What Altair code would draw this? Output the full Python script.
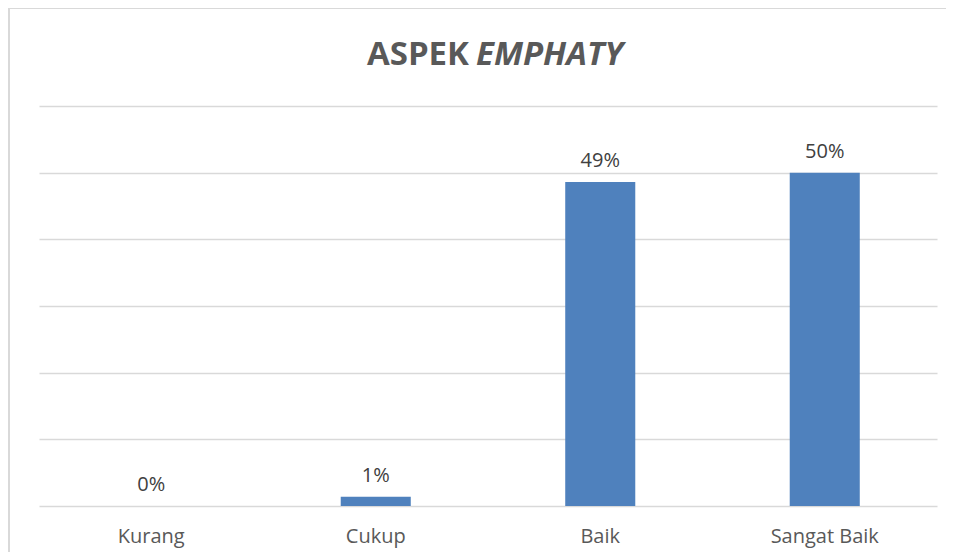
import altair as alt
import pandas as pd

categories = ["Kurang", "Cukup", "Baik", "Sangat Baik"]
values = [0.0, 0.014, 0.486, 0.500]
y_ticks = [0.0, 0.1, 0.2, 0.3, 0.4, 0.5, 0.6]
title_plain = "ASPEK"
title_italic = "EMPHATY"

df = pd.DataFrame({"kategori": categories, "nilai": values})

FONT = "Open Sans"
GRID = "#d9d9d9"

x_enc = alt.X(
    "kategori:N",
    sort=categories,
    scale=alt.Scale(paddingInner=0.688, paddingOuter=0.344),
    axis=alt.Axis(
        title=None, ticks=False, domain=False, labelAngle=0,
        labelFont=FONT, labelFontSize=20, labelColor="#595959",
        labelPadding=20,
    ),
)
y_enc = alt.Y(
    "nilai:Q",
    scale=alt.Scale(domain=[0, 0.6], nice=False),
    axis=alt.Axis(
        title=None, labels=False, ticks=False, domain=False,
        values=y_ticks, grid=True, gridColor=GRID, gridWidth=1.4,
    ),
)

base = alt.Chart(df)
bars = base.mark_bar(color="#4F81BD").encode(x=x_enc, y=y_enc)
labels = base.mark_text(
    font=FONT, fontSize=20, color="#404040", baseline="alphabetic", dy=-15
).encode(x=alt.X("kategori:N", sort=categories), y="nilai:Q", text=alt.Text("nilai:Q", format=".0%"))

t1 = alt.Chart(pd.DataFrame({"t": [title_plain]})).mark_text(
    font=FONT, fontSize=33, fontWeight="bold", color="#595959",
    align="right", baseline="alphabetic",
).encode(text="t:N", x=alt.value(430), y=alt.value(-41))
t2 = alt.Chart(pd.DataFrame({"t": [title_italic]})).mark_text(
    font=FONT, fontSize=33, fontWeight="bold", fontStyle="italic", color="#595959",
    align="left", baseline="alphabetic",
).encode(text="t:N", x=alt.value(437), y=alt.value(-41))

frame_left = alt.Chart(pd.DataFrame({"a": [0]})).mark_rule(color=GRID, strokeWidth=2).encode(
    x=alt.value(-30), y=alt.value(-98), y2=alt.value(446)
)
frame_top = alt.Chart(pd.DataFrame({"a": [0]})).mark_rule(color=GRID, strokeWidth=2).encode(
    x=alt.value(-30), x2=alt.value(907), y=alt.value(-98)
)

chart = alt.layer(frame_left, frame_top, bars, labels, t1, t2).properties(
    width=898, height=400,
    autosize=alt.AutoSizeParams(type="none"),
    padding={"left": 31, "top": 98, "right": 9, "bottom": 46},
).configure_view(stroke=None)

chart.save("out.html", embed_options={"renderer": "svg", "actions": False})
